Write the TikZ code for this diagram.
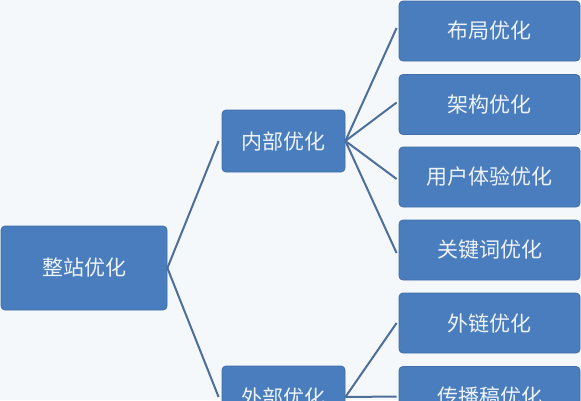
\documentclass[tikz,border=0pt]{standalone}
\usepackage{fontspec}
\newfontfamily\cjk{Noto Sans CJK SC}
\definecolor{bg}{HTML}{F5F8FB}
\definecolor{boxfill}{HTML}{4A7DBD}
\definecolor{boxline}{HTML}{3F6EA8}
\definecolor{edgecol}{HTML}{4E6E9A}
\definecolor{txt}{HTML}{EEF3FA}
\tikzset{
  box/.style={draw=boxline, line width=0.8pt, fill=boxfill, rounded corners=4pt, text=txt,
    font=\cjk\fontsize{21}{25}\selectfont, inner sep=0pt},
  link/.style={draw=edgecol, line width=2pt}
}
\begin{document}
\begin{tikzpicture}[x=1pt,y=-1pt]
\clip (0,0) rectangle (581,400);
\fill[bg] (0,0) rectangle (581,400);
\node[box, minimum width=166pt, minimum height=84pt] (root) at (84,268) {整站优化};
\node[box, minimum width=123pt, minimum height=62pt] (in) at (283.5,141) {内部优化};
\node[box, minimum width=123pt, minimum height=62pt] (out) at (283.5,397) {外部优化};
\node[box, minimum width=181pt, minimum height=60pt] (r1) at (489.5,31) {布局优化};
\node[box, minimum width=181pt, minimum height=60pt] (r2) at (489.5,104.5) {架构优化};
\node[box, minimum width=181pt, minimum height=60pt] (r3) at (489.5,177) {用户体验优化};
\node[box, minimum width=181pt, minimum height=60pt] (r4) at (489.5,250) {关键词优化};
\node[box, minimum width=181pt, minimum height=60pt] (r5) at (489.5,323) {外链优化};
\node[box, minimum width=181pt, minimum height=60pt] (r6) at (489.5,396.5) {传播稿优化};
\draw[link] (root.east) -- ([xshift=-3pt]in.west);
\draw[link] (root.east) -- ([xshift=-3pt]out.west);
\draw[link] (in.east) -- ([xshift=-2pt,yshift=3pt]r1.west);
\draw[link] (in.east) -- ([xshift=-2pt,yshift=2pt]r2.west);
\draw[link] (in.east) -- ([xshift=-2pt,yshift=-2pt]r3.west);
\draw[link] (in.east) -- ([xshift=-2pt,yshift=-3pt]r4.west);
\draw[link] (out.east) -- ([xshift=-2pt]r5.west);
\draw[link] (out.east) -- ([xshift=-2pt]r6.west);
\end{tikzpicture}
\end{document}
